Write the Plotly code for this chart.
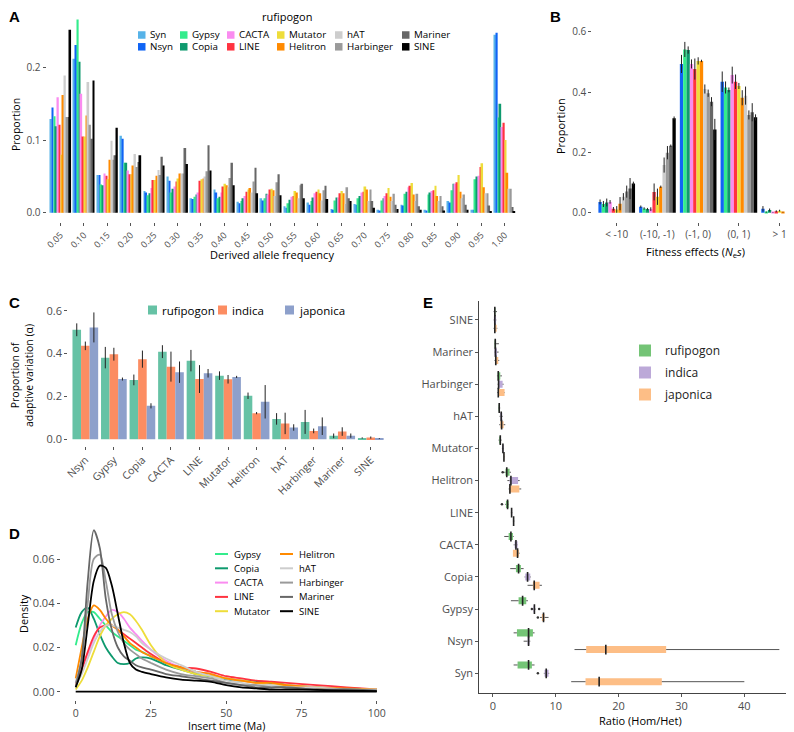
import plotly.graph_objects as go

W, H = 794, 732
FONT = 'Open Sans'
PAGE_OFFSET = 8  # the page body margin pushes the figure 8 px right and down

# ---------------- A: derived allele frequency spectrum (rufipogon) ----------------
daf_bins = ['0.05', '0.10', '0.15', '0.20', '0.25', '0.30', '0.35', '0.40', '0.45', '0.50',
            '0.55', '0.60', '0.65', '0.70', '0.75', '0.80', '0.85', '0.90', '0.95', '1.00']
te_names = ['Syn', 'Nsyn', 'Gypsy', 'Copia', 'CACTA', 'LINE',
            'Mutator', 'Helitron', 'hAT', 'Harbinger', 'Mariner', 'SINE']
te_colors = ['#57B3E8', '#1064F5', '#33EC8C', '#0E9A6E', '#FA8CF0', '#FF3340',
             '#EEDD3A', '#FF8A00', '#CDCDCD', '#9A9A9A', '#676767', '#000000']

a_syn = [0.129, 0.212, 0.052, 0.106, 0.030, 0.050, 0.020, 0.032, 0.015, 0.020,
         0.009, 0.014, 0.005, 0.012, 0.004, 0.011, 0.004, 0.016, 0.004, 0.245]
a_nsyn = [0.145, 0.231, 0.052, 0.102, 0.028, 0.044, 0.019, 0.028, 0.013, 0.017,
          0.007, 0.011, 0.004, 0.011, 0.003, 0.010, 0.003, 0.014, 0.004, 0.248]
a_gypsy = [0.133, 0.266, 0.039, 0.069, 0.024, 0.028, 0.022, 0.020, 0.016, 0.020,
           0.013, 0.016, 0.017, 0.020, 0.017, 0.026, 0.025, 0.031, 0.046, 0.131]
a_copia = [0.119, 0.208, 0.038, 0.069, 0.027, 0.033, 0.025, 0.022, 0.020, 0.026,
           0.018, 0.021, 0.021, 0.023, 0.020, 0.029, 0.028, 0.040, 0.050, 0.150]
a_cacta = [0.159, 0.164, 0.054, 0.058, 0.034, 0.036, 0.028, 0.028, 0.023, 0.025,
           0.022, 0.027, 0.021, 0.028, 0.023, 0.035, 0.030, 0.040, 0.051, 0.118]
a_line = [0.121, 0.105, 0.051, 0.053, 0.045, 0.043, 0.044, 0.036, 0.029, 0.032,
          0.023, 0.029, 0.027, 0.029, 0.027, 0.037, 0.031, 0.042, 0.063, 0.124]
a_mutator = [0.080, 0.105, 0.046, 0.053, 0.045, 0.047, 0.046, 0.040, 0.032, 0.033,
             0.030, 0.032, 0.030, 0.036, 0.034, 0.041, 0.037, 0.052, 0.068, 0.100]
a_helitron = [0.162, 0.134, 0.073, 0.065, 0.051, 0.054, 0.047, 0.038, 0.034, 0.031,
              0.028, 0.027, 0.027, 0.032, 0.022, 0.025, 0.023, 0.029, 0.035, 0.055]
a_hat = [0.189, 0.180, 0.099, 0.081, 0.059, 0.054, 0.050, 0.035, 0.028, 0.023,
         0.020, 0.017, 0.012, 0.016, 0.016, 0.016, 0.016, 0.020, 0.027, 0.033]
a_harbinger = [0.132, 0.121, 0.073, 0.063, 0.052, 0.054, 0.057, 0.048, 0.043, 0.042,
               0.038, 0.031, 0.035, 0.032, 0.026, 0.026, 0.023, 0.025, 0.027, 0.033]
a_mariner = [0.132, 0.102, 0.079, 0.070, 0.077, 0.089, 0.093, 0.069, 0.062, 0.053,
             0.040, 0.037, 0.020, 0.016, 0.011, 0.009, 0.009, 0.011, 0.010, 0.008]
a_sine = [0.252, 0.182, 0.117, 0.079, 0.065, 0.067, 0.058, 0.038, 0.027, 0.024,
          0.020, 0.019, 0.016, 0.007, 0.005, 0.004, 0.003, 0.004, 0.002, 0.002]

# ---------------- B: distribution of fitness effects ----------------
dfe_bins = ['< -10', '(-10, -1)', '(-1, 0)', '(0, 1)', '> 1']
b_nsyn = [0.036, 0.020, 0.493, 0.434, 0.013]
b_nsyn_se = [0.008, 0.004, 0.030, 0.034, 0.009]
b_gypsy = [0.029, 0.014, 0.541, 0.415, 0.002]
b_gypsy_se = [0.010, 0.004, 0.025, 0.020, 0.002]
b_copia = [0.034, 0.012, 0.539, 0.407, 0.009]
b_copia_se = [0.013, 0.004, 0.012, 0.008, 0.005]
b_cacta = [0.036, 0.012, 0.493, 0.456, 0.001]
b_cacta_se = [0.006, 0.006, 0.015, 0.028, 0.001]
b_line = [0.013, 0.069, 0.476, 0.434, 0.005]
b_line_se = [0.006, 0.028, 0.035, 0.024, 0.003]
b_mutator = [0.011, 0.053, 0.503, 0.420, 0.007]
b_mutator_se = [0.011, 0.027, 0.012, 0.010, 0.003]
b_helitron = [0.030, 0.086, 0.503, 0.381, 0.002]
b_helitron_se = [0.022, 0.004, 0.004, 0.025, 0.001]
b_hat = [0.053, 0.158, 0.410, 0.388, 0.0]
b_hat_se = [0.012, 0.025, 0.015, 0.030, 0.0]
b_harbinger = [0.070, 0.199, 0.396, 0.324, 0.0]
b_harbinger_se = [0.020, 0.022, 0.012, 0.015, 0.0]
b_mariner = [0.080, 0.222, 0.368, 0.333, 0.0]
b_mariner_se = [0.035, 0.004, 0.015, 0.030, 0.0]
b_sine = [0.097, 0.313, 0.276, 0.316, 0.0]
b_sine_se = [0.006, 0.006, 0.035, 0.010, 0.0]

# ---------------- C: proportion of adaptive variation ----------------
alpha_cats = ['Nsyn', 'Gypsy', 'Copia', 'CACTA', 'LINE', 'Mutator',
              'Helitron', 'hAT', 'Harbinger', 'Mariner', 'SINE']
alpha_rufipogon = [0.511, 0.381, 0.277, 0.409, 0.367, 0.297, 0.203, 0.095, 0.081, 0.016, 0.006]
alpha_rufipogon_se = [0.030, 0.050, 0.025, 0.030, 0.050, 0.020, 0.015, 0.027, 0.056, 0.011, 0.003]
alpha_indica = [0.436, 0.397, 0.374, 0.339, 0.281, 0.280, 0.122, 0.074, 0.039, 0.036, 0.008]
alpha_indica_se = [0.020, 0.030, 0.040, 0.070, 0.065, 0.020, 0.005, 0.050, 0.011, 0.020, 0.005]
alpha_japonica = [0.522, 0.281, 0.156, 0.313, 0.308, 0.291, 0.175, 0.055, 0.061, 0.017, 0.003]
alpha_japonica_se = [0.070, 0.007, 0.012, 0.050, 0.020, 0.005, 0.078, 0.015, 0.041, 0.010, 0.002]
pop_names = ['rufipogon', 'indica', 'japonica']
pop_colors = ['#66C2A5', '#FC8D62', '#8DA0CB']

# ---------------- D: insertion time densities ----------------
insert_ma = [0, 2, 4, 6, 8, 10, 12, 14, 16, 18, 20, 22, 25, 30, 35, 40, 45, 50, 55, 60, 65, 70, 80, 90, 100]
dens_gypsy = [0.021, 0.031, 0.036, 0.036, 0.033, 0.030, 0.027, 0.025, 0.023, 0.021, 0.019, 0.018, 0.016,
              0.013, 0.011, 0.009, 0.007, 0.006, 0.005, 0.0045, 0.004, 0.003, 0.002, 0.0015, 0.001]
dens_copia = [0.029, 0.036, 0.038, 0.033, 0.026, 0.020, 0.016, 0.013, 0.0125, 0.013, 0.015, 0.0155, 0.015,
              0.012, 0.010, 0.008, 0.007, 0.0055, 0.005, 0.0048, 0.004, 0.003, 0.002, 0.001, 0.0005]
dens_cacta = [0.004, 0.010, 0.017, 0.024, 0.030, 0.034, 0.037, 0.036, 0.033, 0.029, 0.026, 0.023, 0.019,
              0.014, 0.011, 0.009, 0.008, 0.006, 0.005, 0.004, 0.003, 0.003, 0.002, 0.0015, 0.001]
dens_line = [0.003, 0.010, 0.018, 0.025, 0.029, 0.030, 0.030, 0.028, 0.026, 0.024, 0.022, 0.020, 0.017,
             0.013, 0.011, 0.0105, 0.009, 0.007, 0.006, 0.005, 0.0045, 0.004, 0.003, 0.002, 0.001]
dens_mutator = [0.001, 0.005, 0.011, 0.018, 0.025, 0.030, 0.033, 0.035, 0.036, 0.035, 0.032, 0.028, 0.021,
                0.013, 0.010, 0.008, 0.007, 0.006, 0.005, 0.004, 0.003, 0.003, 0.002, 0.001, 0.001]
dens_helitron = [0.006, 0.020, 0.033, 0.039, 0.037, 0.033, 0.030, 0.028, 0.025, 0.022, 0.020, 0.018, 0.016,
                 0.013, 0.011, 0.009, 0.008, 0.006, 0.005, 0.004, 0.004, 0.003, 0.002, 0.0015, 0.001]
dens_hat = [0.003, 0.008, 0.015, 0.022, 0.027, 0.030, 0.030, 0.029, 0.028, 0.027, 0.025, 0.022, 0.019,
            0.015, 0.012, 0.009, 0.007, 0.005, 0.004, 0.003, 0.003, 0.002, 0.002, 0.001, 0.001]
dens_harbinger = [0.004, 0.015, 0.040, 0.060, 0.062, 0.050, 0.035, 0.027, 0.022, 0.019, 0.017, 0.015, 0.013,
                  0.010, 0.008, 0.007, 0.006, 0.004, 0.003, 0.003, 0.002, 0.002, 0.001, 0.001, 0.0005]
dens_mariner = [0.002, 0.015, 0.050, 0.073, 0.065, 0.042, 0.028, 0.020, 0.016, 0.014, 0.012, 0.011, 0.010,
                0.008, 0.007, 0.006, 0.005, 0.004, 0.003, 0.002, 0.002, 0.002, 0.001, 0.001, 0.0005]
dens_sine = [0.002, 0.010, 0.030, 0.050, 0.057, 0.056, 0.048, 0.035, 0.022, 0.013, 0.010, 0.009, 0.008,
             0.0065, 0.0055, 0.005, 0.0045, 0.003, 0.002, 0.0015, 0.001, 0.001, 0.0008, 0.0005, 0.0003]

# ---------------- E: Hom/Het ratio boxplots (bottom to top) ----------------
ratio_cats = ['Syn', 'Nsyn', 'Gypsy', 'Copia', 'CACTA', 'LINE',
              'Helitron', 'Mutator', 'hAT', 'Harbinger', 'Mariner', 'SINE']
e_rufipogon_lo = [3.29, 3.29, 2.86, 2.75, 1.80, 1.95, 1.80, 0.90, 0.85, 0.64, 0.20, 0.10]
e_rufipogon_q1 = [3.92, 3.82, 4.08, 3.66, 2.50, 2.07, 2.00, 1.00, 0.90, 0.74, 0.25, 0.20]
e_rufipogon_med = [5.67, 5.67, 4.72, 4.08, 2.86, 2.33, 2.20, 1.17, 1.00, 0.85, 0.37, 0.30]
e_rufipogon_q3 = [6.20, 6.36, 5.30, 4.45, 3.18, 2.49, 2.65, 1.27, 1.10, 1.17, 0.50, 0.40]
e_rufipogon_hi = [6.62, 6.62, 5.56, 4.88, 3.30, 2.55, 2.86, 1.38, 1.16, 1.43, 0.95, 0.65]
e_indica_lo = [8.10, 4.88, 6.40, 5.03, 3.30, 2.86, 2.30, 1.43, 1.06, 0.74, 0.20, 0.10]
e_indica_q1 = [8.21, 5.51, 6.45, 5.14, 3.45, 2.92, 2.65, 1.50, 1.17, 0.80, 0.25, 0.15]
e_indica_med = [8.48, 5.67, 6.60, 5.51, 3.66, 2.97, 2.86, 1.59, 1.32, 0.90, 0.40, 0.30]
e_indica_q3 = [8.85, 5.83, 6.70, 5.94, 3.92, 3.05, 4.00, 1.70, 1.48, 1.54, 0.65, 0.50]
e_indica_hi = [8.95, 5.94, 6.80, 6.04, 3.97, 3.10, 4.25, 1.75, 1.59, 1.70, 0.90, 0.55]
e_japonica_lo = [12.45, 12.98, 7.50, 5.51, 3.18, 3.18, 2.50, 1.70, 1.00, 0.70, 0.25, 0.10]
e_japonica_q1 = [14.73, 14.84, 7.79, 6.36, 3.18, 3.22, 2.60, 1.72, 1.17, 0.80, 0.35, 0.20]
e_japonica_med = [16.90, 17.96, 8.05, 6.57, 3.92, 3.29, 2.70, 1.75, 1.38, 0.85, 0.45, 0.30]
e_japonica_q3 = [26.87, 27.56, 8.21, 7.42, 4.13, 3.35, 4.20, 1.80, 1.70, 1.85, 0.85, 0.60]
e_japonica_hi = [40.00, 45.57, 8.85, 7.79, 4.24, 3.40, 4.50, 1.85, 1.96, 1.90, 1.00, 0.70]
e_outlier_cat = ['Helitron', 'LINE', 'Syn', 'Gypsy', 'Gypsy', 'Gypsy']
e_outlier_pop = ['rufipogon', 'rufipogon', 'indica', 'indica', 'indica', 'japonica']
e_outlier_val = [1.55, 1.43, 7.15, 6.20, 7.35, 7.15]
e_colors = ['#74C476', '#BCA9D8', '#FDBE86']


def px(x):
    return (x - PAGE_OFFSET) / W


def py(y):
    return 1 - (y - PAGE_OFFSET) / H


fig = go.Figure()

# ---- panel A bars
a_values = [a_syn, a_nsyn, a_gypsy, a_copia, a_cacta, a_line, a_mutator,
            a_helitron, a_hat, a_harbinger, a_mariner, a_sine]
for name, vals, col in zip(te_names, a_values, te_colors):
    fig.add_trace(go.Bar(x=daf_bins, y=vals, name=name, marker=dict(color=col, line=dict(width=0)),
                         xaxis='x', yaxis='y', showlegend=False))

# ---- panel B bars
b_values = [(b_nsyn, b_nsyn_se), (b_gypsy, b_gypsy_se), (b_copia, b_copia_se), (b_cacta, b_cacta_se),
            (b_line, b_line_se), (b_mutator, b_mutator_se), (b_helitron, b_helitron_se),
            (b_hat, b_hat_se), (b_harbinger, b_harbinger_se), (b_mariner, b_mariner_se),
            (b_sine, b_sine_se)]
for name, (vals, se), col in zip(te_names[1:], b_values, te_colors[1:]):
    fig.add_trace(go.Bar(x=dfe_bins, y=vals, name=name, marker=dict(color=col, line=dict(width=0)),
                         error_y=dict(type='data', array=se, color='#222', thickness=1, width=0),
                         xaxis='x2', yaxis='y2', showlegend=False))

# ---- panel C bars
c_values = [(alpha_rufipogon, alpha_rufipogon_se), (alpha_indica, alpha_indica_se),
            (alpha_japonica, alpha_japonica_se)]
for name, (vals, se), col in zip(pop_names, c_values, pop_colors):
    fig.add_trace(go.Bar(x=alpha_cats, y=vals, name=name, marker=dict(color=col, line=dict(width=0)),
                         error_y=dict(type='data', array=se, color='#222', thickness=1, width=0),
                         xaxis='x3', yaxis='y3', showlegend=False))

# ---- panel D density curves
d_names = te_names[2:]
d_colors = te_colors[2:]
d_values = [dens_gypsy, dens_copia, dens_cacta, dens_line, dens_mutator,
            dens_helitron, dens_hat, dens_harbinger, dens_mariner, dens_sine]
for name, vals, col in zip(d_names, d_values, d_colors):
    fig.add_trace(go.Scatter(x=insert_ma, y=vals, name=name, mode='lines',
                             line=dict(color=col, width=1.8, shape='spline', smoothing=0.8),
                             xaxis='x4', yaxis='y4', showlegend=False))
fig.add_trace(go.Scatter(x=[insert_ma[0], insert_ma[-1]], y=[0, 0], mode='lines',
                         line=dict(color='black', width=1.8), xaxis='x4', yaxis='y4', showlegend=False))

# ---- panel E boxplots
e_stats = {
    'rufipogon': (e_rufipogon_lo, e_rufipogon_q1, e_rufipogon_med, e_rufipogon_q3, e_rufipogon_hi),
    'indica': (e_indica_lo, e_indica_q1, e_indica_med, e_indica_q3, e_indica_hi),
    'japonica': (e_japonica_lo, e_japonica_q1, e_japonica_med, e_japonica_q3, e_japonica_hi),
}
e_offsets = {'rufipogon': 0.26, 'indica': 0.0, 'japonica': -0.26}
for name, col in zip(pop_names, e_colors):
    lo, q1, med, q3, hi = e_stats[name]
    pos = [i + e_offsets[name] for i in range(len(ratio_cats))]
    fig.add_trace(go.Box(y=pos, q1=q1, median=med, q3=q3, lowerfence=q1, upperfence=q3,
                         orientation='h', name=name, fillcolor=col, width=0.22,
                         line=dict(color='rgba(0,0,0,0)', width=0), boxpoints=False,
                         xaxis='x5', yaxis='y5', legend='legend', legendgroup=name))
    wx, wy = [], []
    for i in range(len(ratio_cats)):
        wx += [lo[i], q1[i], None, q3[i], hi[i], None]
        wy += [pos[i], pos[i], None, pos[i], pos[i], None]
    fig.add_trace(go.Scatter(x=wx, y=wy, mode='lines', line=dict(color='#555', width=1),
                             xaxis='x5', yaxis='y5', showlegend=False, hoverinfo='skip'))
    fig.add_trace(go.Scatter(x=med, y=pos, mode='markers',
                             marker=dict(symbol='line-ns', size=7, line=dict(width=1.6, color='#222')),
                             xaxis='x5', yaxis='y5', showlegend=False))
    ox = [v for v, p in zip(e_outlier_val, e_outlier_pop) if p == name]
    oy = [ratio_cats.index(c) + e_offsets[name] for c, p in zip(e_outlier_cat, e_outlier_pop) if p == name]
    fig.add_trace(go.Scatter(x=ox, y=oy, mode='markers', marker=dict(size=2.5, color='#333'),
                             xaxis='x5', yaxis='y5', showlegend=False))

# ---- manual keys for A, C and D
shapes, notes = [], []


def square_key(x, y, col, size):
    shapes.append(dict(type='rect', xref='paper', yref='paper', x0=px(x), x1=px(x + size),
                       y0=py(y + size / 2), y1=py(y - size / 2), fillcolor=col, line=dict(width=0)))


def line_key(x0, x1, y, col):
    shapes.append(dict(type='line', xref='paper', yref='paper', x0=px(x0), x1=px(x1),
                       y0=py(y), y1=py(y), line=dict(color=col, width=2)))


def note(text, x, y, size=11, angle=0, xanchor='center', yanchor='middle', family=FONT, color='black'):
    notes.append(dict(text=text, x=px(x), y=py(y), xref='paper', yref='paper', showarrow=False,
                      textangle=angle, xanchor=xanchor, yanchor=yanchor, borderpad=0,
                      font=dict(family=family, size=size, color=color)))


a_key_cols = [138, 180, 227, 277, 335, 402]
for i, (name, col) in enumerate(zip(te_names, te_colors)):
    x0 = a_key_cols[i // 2]
    y0 = 35 + 11.8 * (i % 2)
    square_key(x0, y0, col, 7.5)
    note(name, x0 + 11, y0, size=9.8, xanchor='left')
note('rufipogon', 287, 16, size=11)

c_key_x = [148, 218, 285]
for x0, name, col in zip(c_key_x, pop_names, pop_colors):
    square_key(x0, 310, col, 9)
    note(name, x0 + 13, 310, size=11.5, xanchor='left')

d_key_x = [215, 280]
for i, (name, col) in enumerate(zip(d_names, d_colors)):
    x0 = d_key_x[i // 5]
    y0 = 554 + 14.3 * (i % 5)
    line_key(x0, x0 + 13, y0, col)
    note(name, x0 + 18, y0, size=9.5, xanchor='left')

# panel letters (kept just inside the drawable area)
for lab, x, y in [('A', 14, 16), ('B', 555, 16), ('C', 14, 302), ('D', 14, 533), ('E', 428, 302)]:
    note('<b>%s</b>' % lab, x, y, size=15, family='Liberation Sans')

# axis titles
note('Proportion', 16, 125, size=10.5, angle=-90)
note('Derived allele frequency', 272, 254, size=11)
note('Proportion', 560, 126, size=11, angle=-90)
note('Fitness effects (<i>N</i><sub>e</sub><i>s</i>)', 695, 252, size=11)
note('Proportion of<br>adaptive variation (α)', 22, 376, size=10.5, angle=-90)
note('Density', 23, 614, size=11, angle=-90)
note('Insert time (Ma)', 227, 726, size=10.5)
note('Ratio (Hom/Het)', 640, 720, size=11)

tick_font = dict(family=FONT, size=10, color='#4d4d4d')
base_ax = dict(showgrid=False, zeroline=False, ticks='outside', ticklen=3, tickwidth=1,
               tickcolor='#555', tickfont=tick_font, showline=False, automargin=False,
               ticklabeloverflow='allow')

fig.update_layout(
    width=W, height=H, margin=dict(l=0, r=0, t=0, b=0),
    paper_bgcolor='white', plot_bgcolor='white',
    font=dict(family=FONT, color='black'),
    barmode='group', bargap=0.1, bargroupgap=0,
    shapes=shapes, annotations=notes,
    xaxis=dict(base_ax, domain=[px(46.5), px(518.7)], range=[-0.6, 19.6], anchor='y',
               tickangle=-45, tickfont=dict(tick_font, size=9)),
    yaxis=dict(base_ax, domain=[py(222.4), py(9.9)], range=[-0.0133, 0.2793], anchor='x',
               tickvals=[0, 0.1, 0.2], ticktext=['0.0', '0.1', '0.2']),
    xaxis2=dict(base_ax, domain=[px(592.3), px(802)], range=[-0.6, 4.55], anchor='y2'),
    yaxis2=dict(base_ax, domain=[py(221.8), py(25.6)], range=[-0.03, 0.62], anchor='x2',
                tickvals=[0, 0.2, 0.4, 0.6], ticktext=['0.0', '0.2', '0.4', '0.6']),
    xaxis3=dict(base_ax, domain=[px(68.2), px(387.9)], range=[-0.6, 10.6], anchor='y3',
                tickangle=-45, tickfont=dict(tick_font, size=10.5)),
    yaxis3=dict(base_ax, domain=[py(445.7), py(306)], range=[-0.03, 0.622], anchor='x3',
                tickvals=[0, 0.2, 0.4, 0.6], ticktext=['0.0', '0.2', '0.4', '0.6'],
                tickfont=dict(tick_font, size=11)),
    xaxis4=dict(base_ax, domain=[px(60.65), px(391.8)], range=[-5, 105], anchor='y4',
                tickvals=[0, 25, 50, 75, 100], tickfont=dict(tick_font, size=10.5)),
    yaxis4=dict(base_ax, domain=[py(699.9), py(520.1)], range=[-0.0037, 0.0776], anchor='x4',
                tickvals=[0, 0.02, 0.04, 0.06], tickformat='.2f', tickfont=dict(tick_font, size=11)),
    xaxis5=dict(base_ax, domain=[px(479.3), px(793.6)], range=[-2.17, 47.84], anchor='y5',
                tickvals=[0, 10, 20, 30, 40], showline=True, linecolor='#444', linewidth=1,
                tickfont=dict(tick_font, size=11)),
    yaxis5=dict(base_ax, domain=[py(692.6), py(300.7)], range=[-0.6, 11.6], anchor='x5',
                tickvals=list(range(len(ratio_cats))), ticktext=ratio_cats,
                showline=True, linecolor='#444', linewidth=1, tickfont=dict(tick_font, size=11)),
    legend=dict(x=px(625), y=py(336), xanchor='left', yanchor='top', bgcolor='rgba(0,0,0,0)',
                font=dict(family=FONT, size=12, color='#222'), tracegroupgap=3),
)

fig.write_html('out.html')
